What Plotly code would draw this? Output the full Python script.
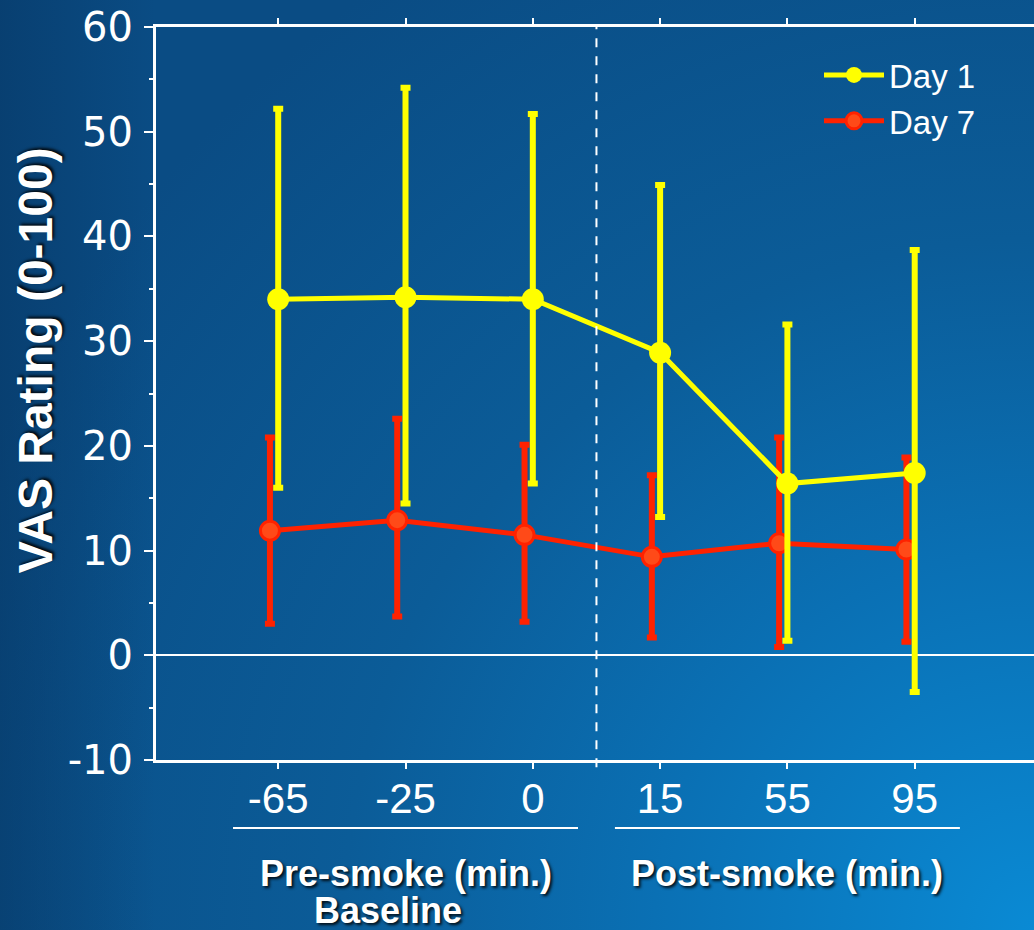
import base64
import plotly.graph_objects as go

# ---- data ----
timepoints = ["-65", "-25", "0", "15", "55", "95"]
day1_mean = [34.0, 34.2, 34.0, 28.9, 16.4, 17.4]
day1_upper = [52.2, 54.2, 51.7, 44.9, 31.6, 38.7]
day1_lower = [16.0, 14.5, 16.4, 13.2, 1.4, -3.5]
day7_mean = [11.9, 12.9, 11.5, 9.4, 10.7, 10.1]
day7_upper = [20.8, 22.6, 20.1, 17.2, 20.8, 18.9]
day7_lower = [3.0, 3.7, 3.2, 1.7, 0.8, 1.3]
y_tickvals = [-10, 0, 10, 20, 30, 40, 50, 60]
y_ticktext = ["-10", "0", "10", "20", "30", "40", "50", "60"]
group_titles = ["Pre-smoke (min.)", "Post-smoke (min.)"]
group_subtitles = ["Baseline", ""]

idx = list(range(len(timepoints)))
offset = 0.065
x_day1 = idx
x_day7 = [i - offset for i in idx]

W, H = 1034, 930
L, R, T, B = 156, 0, 27, 170
pw, ph = W - L - R, H - T - B

fig = go.Figure()

fig.add_trace(go.Scatter(
    x=x_day7, y=day7_mean, name="Day 7", mode="lines+markers",
    line=dict(color="#ff2200", width=5),
    marker=dict(size=19, color="#ff4a18", line=dict(color="#ff2200", width=3)),
    error_y=dict(type="data", symmetric=False,
                 array=[u - m for u, m in zip(day7_upper, day7_mean)],
                 arrayminus=[m - l for m, l in zip(day7_mean, day7_lower)],
                 color="#ff2200", thickness=6, width=5),
))
fig.add_trace(go.Scatter(
    x=x_day1, y=day1_mean, name="Day 1", mode="lines+markers",
    line=dict(color="#ffff00", width=5),
    marker=dict(size=22, color="#ffff00"),
    error_y=dict(type="data", symmetric=False,
                 array=[u - m for u, m in zip(day1_upper, day1_mean)],
                 arrayminus=[m - l for m, l in zip(day1_mean, day1_lower)],
                 color="#ffff00", thickness=6, width=5),
))

# background gradient
svg = f'''<svg xmlns="http://www.w3.org/2000/svg" width="{W}" height="{H}">
<defs><radialGradient id="g" cx="{W}" cy="{H}" r="1150" gradientUnits="userSpaceOnUse">
<stop offset="0" stop-color="#0a8ad4"/><stop offset="0.33" stop-color="#0a70b4"/>
<stop offset="0.6" stop-color="#0b5c98"/><stop offset="1" stop-color="#0a4c84"/>
</radialGradient>
<linearGradient id="d" x1="0" y1="0" x2="1" y2="0">
<stop offset="0" stop-color="#06305a" stop-opacity="0.45"/><stop offset="0.15" stop-color="#06305a" stop-opacity="0"/>
</linearGradient></defs>
<rect width="{W}" height="{H}" fill="url(#g)"/><rect width="{W}" height="{H}" fill="url(#d)"/></svg>'''
src = "data:image/svg+xml;base64," + base64.b64encode(svg.encode()).decode()
fig.add_layout_image(dict(source=src, xref="paper", yref="paper",
                          x=-L / pw, y=1 + T / ph, sizex=W / pw, sizey=H / ph,
                          xanchor="left", yanchor="top", sizing="stretch", layer="below"))

# dashed divider
mid = (idx[2] + idx[3]) / 2
fig.add_shape(type="line", xref="x", yref="paper", x0=mid, x1=mid, y0=-0.01, y1=1,
              line=dict(color="white", width=2, dash="dash"))

# group underlines and labels
groups = [(idx[0], idx[2]), (idx[3], idx[5])]
shadow = "2px 2px 3px rgba(0,0,0,0.85)"
gfont = dict(family="Liberation Sans", size=36, color="white", weight="bold", shadow=shadow)
for (a, b), t1, t2 in zip(groups, group_titles, group_subtitles):
    c = (a + b) / 2
    fig.add_shape(type="line", xref="x", yref="paper", x0=c - 1.355, x1=c + 1.355,
                  y0=-0.0928, y1=-0.0928, line=dict(color="white", width=2))
    fig.add_annotation(x=c, y=-(873 - 760) / ph, xref="x", yref="paper", text=t1,
                       showarrow=False, xanchor="center", yanchor="middle", font=gfont)
    if t2:
        fig.add_annotation(x=c - 0.14, y=-(910 - 760) / ph, xref="x", yref="paper", text=t2,
                           showarrow=False, xanchor="center", yanchor="middle", font=gfont)

# y title
fig.add_annotation(x=-0.137, y=0.545, xref="paper", yref="paper", text="VAS Rating (0-100)",
                   textangle=-90, showarrow=False, xanchor="center", yanchor="middle",
                   font=dict(family="Liberation Sans", size=48, color="white",
                             weight="bold", shadow=shadow))

fig.update_layout(
    width=W, height=H, margin=dict(l=L, r=R, t=T, b=B),
    paper_bgcolor="rgba(0,0,0,0)", plot_bgcolor="rgba(0,0,0,0)",
    showlegend=True,
    legend=dict(x=(819 - L) / pw, y=(760 - 47) / ph, xanchor="left", yanchor="top",
                bgcolor="rgba(0,0,0,0)",
                font=dict(family="Liberation Sans", size=33, color="white"),
                traceorder="reversed", itemwidth=60),
    xaxis=dict(range=[-0.96, (W - L) / 127.3 - 0.96], tickmode="array", tickvals=idx,
               ticktext=timepoints, showgrid=False, zeroline=False,
               showline=True, linecolor="white", linewidth=3, mirror="allticks",
               ticks="outside", ticklen=6, tickwidth=2, tickcolor="white",
               tickfont=dict(family="Liberation Sans", size=42, color="white"),
               ticklabelstandoff=-6),
    yaxis=dict(range=[-10, 60], tickmode="array", tickvals=y_tickvals, ticktext=y_ticktext,
               showgrid=False,
               zeroline=True, zerolinecolor="white", zerolinewidth=2,
               showline=True, linecolor="white", linewidth=3,
               ticks="outside", ticklen=9, tickwidth=2, tickcolor="white",
               minor=dict(dtick=5, tick0=0, ticks="outside", ticklen=4, tickwidth=2,
                          tickcolor="white"),
               tickfont=dict(family="DejaVu Sans", size=40, color="white"),
               ticklabelstandoff=3),
)

fig.write_html("out.html")
